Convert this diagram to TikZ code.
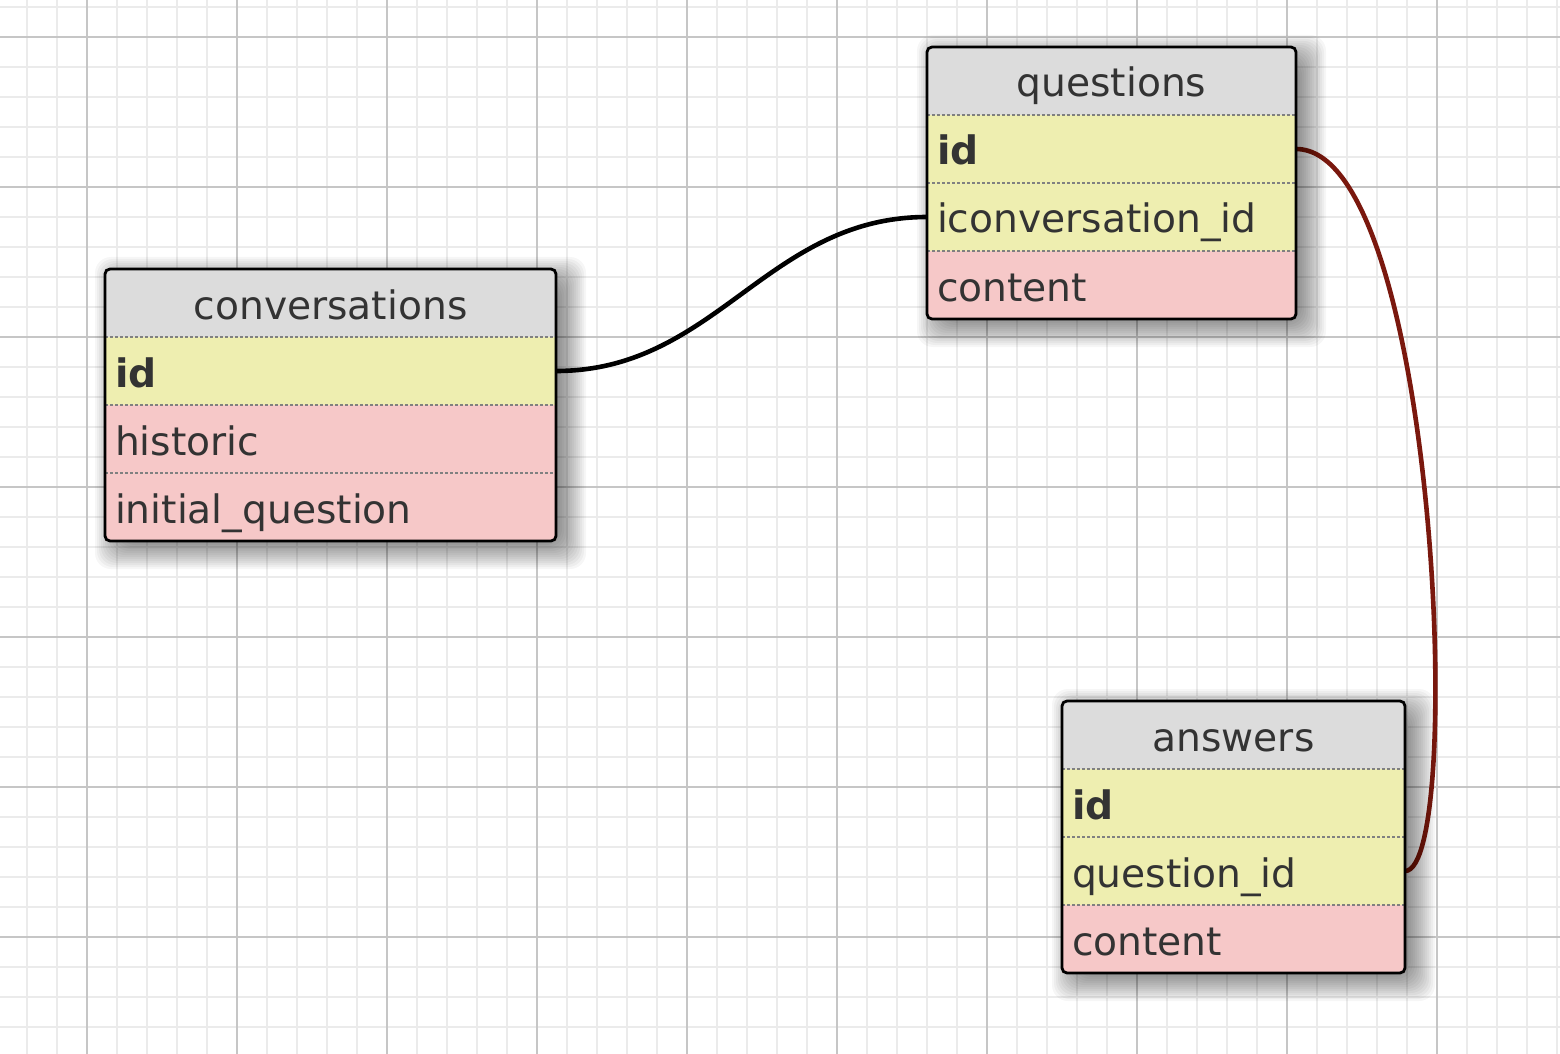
\documentclass[tikz,border=0pt]{standalone}
\usepackage{fontspec}
\setmainfont{DejaVu Sans}
\usetikzlibrary{positioning}
\definecolor{ink}{HTML}{333333}
\definecolor{headgray}{HTML}{DCDCDC}
\definecolor{keyyellow}{HTML}{EEEEB0}
\definecolor{attrpink}{HTML}{F6C8C8}
\definecolor{sepgray}{HTML}{808080}
\definecolor{linkred}{HTML}{7A180E}
\definecolor{minorgrid}{HTML}{EBEBEB}
\definecolor{majorgrid}{HTML}{C6C6C6}
\newcommand{\dbfont}{\fontsize{19.6pt}{23pt}\selectfont}
\pgfdeclarelayer{gridlayer}
\pgfdeclarelayer{linklayer}
\pgfdeclarelayer{shadowlayer}
\pgfsetlayers{gridlayer,linklayer,shadowlayer,main}
\tikzset{
	dbcell/.style={text width=#1, minimum height=34pt, inner xsep=5pt, inner ysep=0pt, outer sep=0pt, text height=18pt, text depth=2pt, font=\dbfont, text=ink},
	tablehead/.style={dbcell=#1, fill=headgray, align=center},
	keyrow/.style={dbcell=#1, fill=keyyellow, align=left},
	attrrow/.style={dbcell=#1, fill=attrpink, align=left},
	tableframe/.style={draw=black, line width=1.4pt, rounded corners=2.5pt},
	shadowstep/.style={fill=black, opacity=0.035, rounded corners=8pt},
	rowsep/.style={draw=sepgray, line width=1.2pt, dash pattern=on 1.5pt off 1pt},
	fklink/.style={line width=2.3pt},
}

\begin{document}
\begin{tikzpicture}[x=0.5pt, y=-0.5pt]
	\useasboundingbox (0,0) rectangle (1560,1054);
	% grid paper
	\begin{pgfonlayer}{gridlayer}
		\fill[white] (0,0) rectangle (1560,1054);
		\foreach \x in {26.7,56.7,...,1560} \draw[minorgrid, line width=1.1pt] (\x,0) -- (\x,1054);
		\foreach \y in {6.7,36.7,...,1054} \draw[minorgrid, line width=1.1pt] (0,\y) -- (1560,\y);
		\foreach \x in {86.7,236.7,...,1560} \draw[majorgrid, line width=1pt] (\x,0) -- (\x,1054);
		\foreach \y in {36.7,186.7,...,1054} \draw[majorgrid, line width=1pt] (0,\y) -- (1560,\y);
	\end{pgfonlayer}

	% conversations
	\node[tablehead=215.5pt, anchor=north west] (c-head) at (105,269) {conversations};
	\node[keyrow=215.5pt, below=0pt of c-head] (c-id) {\textbf{id}};
	\node[attrrow=215.5pt, below=0pt of c-id] (c-hist) {historic};
	\node[attrrow=215.5pt, below=0pt of c-hist] (c-init) {initial\_question};

	% questions
	\node[tablehead=174.5pt, anchor=north west] (q-head) at (927,47) {questions};
	\node[keyrow=174.5pt, below=0pt of q-head] (q-id) {\textbf{id}};
	\node[keyrow=174.5pt, below=0pt of q-id] (q-cid) {iconversation\_id};
	\node[attrrow=174.5pt, below=0pt of q-cid] (q-content) {content};

	% answers
	\node[tablehead=161.5pt, anchor=north west] (a-head) at (1062,701) {answers};
	\node[keyrow=161.5pt, below=0pt of a-head] (a-id) {\textbf{id}};
	\node[keyrow=161.5pt, below=0pt of a-id] (a-qid) {question\_id};
	\node[attrrow=161.5pt, below=0pt of a-qid] (a-content) {content};

	% row separators
	\foreach \r in {c-id,c-hist,c-init,q-id,q-cid,q-content,a-id,a-qid,a-content}
		\draw[rowsep] (\r.north west) -- (\r.north east);

	% frames and soft shadows
	\foreach \t/\b in {c-head/c-init,q-head/q-content,a-head/a-content}{
		\begin{pgfonlayer}{shadowlayer}
			\foreach \e in {-12,-10,...,20}
				\fill[shadowstep] ([shift={({10-(\e)},{8-(\e)})}]\t.north west) rectangle ([shift={({10+\e},{8+\e})}]\b.south east);
		\end{pgfonlayer}
		\draw[tableframe] (\t.north west) rectangle (\b.south east);
	}

	% foreign keys
	\begin{pgfonlayer}{linklayer}
		\draw[fklink, black] (c-id.east) .. controls +(160,0) and +(-160,0) .. (q-cid.west);
		\draw[fklink, linkred] (q-id.east) .. controls +(142,0) and +(61,0) .. (a-qid.east);
	\end{pgfonlayer}
\end{tikzpicture}
\end{document}
